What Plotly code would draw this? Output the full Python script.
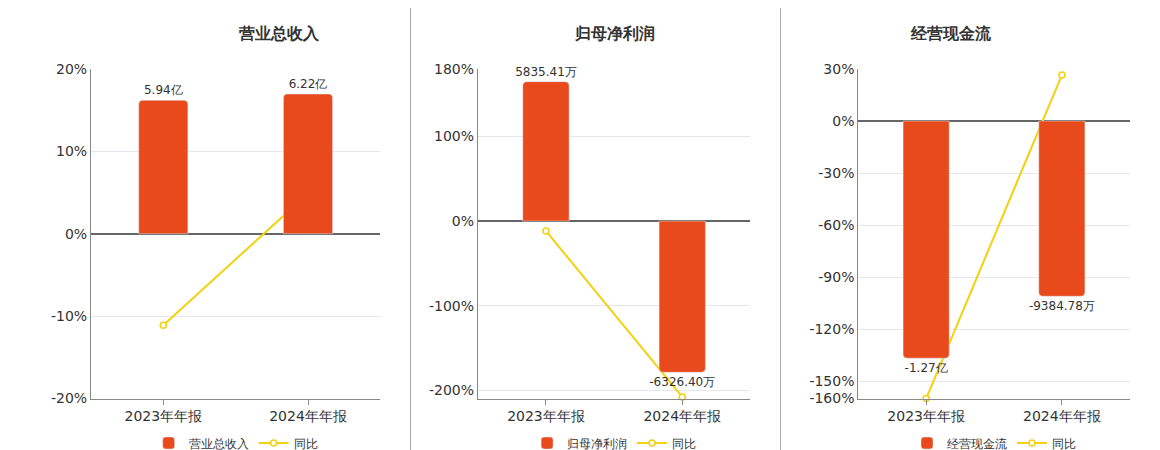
import plotly.graph_objects as go

categories = ["2023年年报", "2024年年报"]
titles = ["营业总收入", "归母净利润", "经营现金流"]
bar_names = ["营业总收入", "归母净利润", "经营现金流"]
bar_values = [[5.94, 6.22], [5835.41, -6326.40], [-12700, -9384.78]]
bar_labels = [["5.94亿", "6.22亿"], ["5835.41万", "-6326.40万"], ["-1.27亿", "-9384.78万"]]
yoy_values = [[-11.1, 4.9], [-11.7, -208.0], [-160.0, 26.5]]
pct_ranges = [[-20, 20], [-210, 180], [-160, 30]]
pct_ticks = [[-20, -10, 0, 10, 20], [-200, -100, 0, 100, 180], [-160, -150, -120, -90, -60, -30, 0, 30]]
scale = [0.3667, 35.37, 92.9]   # bar units per 1% on the percent axis

BAR = "#E84A1B"
LINE = "#F2D10F"
domains = [[0.0715, 0.321], [0.405, 0.640], [0.733, 0.967]]

fig = go.Figure()
for i in range(3):
    n = i + 1
    xa = "x" if n == 1 else f"x{n}"
    ya_bar = f"y{2*n-1}" if n > 1 else "y"
    ya_pct = f"y{2*n}"
    leg = "legend" if n == 1 else f"legend{n}"
    fig.add_trace(go.Bar(x=categories, y=bar_values[i], name=bar_names[i], marker_color=BAR,
                         width=0.34, marker_cornerradius=4, text=bar_labels[i], textposition="outside",
                         constraintext="none", textfont=dict(size=12, color="#333"), cliponaxis=False,
                         xaxis=xa, yaxis=ya_bar, legend=leg))
    fig.add_trace(go.Scatter(x=categories, y=yoy_values[i], name="同比", mode="lines+markers",
                             line=dict(color=LINE, width=2),
                             marker=dict(size=6, color="white", line=dict(color=LINE, width=1.5)),
                             cliponaxis=False, xaxis=xa, yaxis=ya_pct, legend=leg))
    lo, hi = pct_ranges[i]
    fig.layout[f"xaxis{n if n > 1 else ''}"] = dict(domain=domains[i], anchor=ya_pct, showline=True,
        linecolor="#888", ticks="outside", tickcolor="#888", tickfont=dict(size=14, color="#333"))
    fig.layout[f"yaxis{2*n-1 if n > 1 else ''}"] = dict(range=[lo * scale[i], hi * scale[i]],
        overlaying=ya_pct, visible=False, anchor=xa)
    fig.layout[f"yaxis{2*n}"] = dict(domain=[0.104, 0.876], range=[lo, hi], tickvals=pct_ticks[i],
        ticktext=[f"{t}%" for t in pct_ticks[i]], anchor=xa, showline=True, linecolor="#888",
        gridcolor="#e6e6ee", zeroline=True, zerolinecolor="#666", zerolinewidth=1.5,
        tickfont=dict(size=14, color="#333"))
    fig.layout[leg] = dict(orientation="h", x=sum(domains[i]) / 2, xanchor="center", y=0.0,
        yanchor="middle", font=dict(size=12, color="#333"), bgcolor="rgba(0,0,0,0)",
        itemwidth=30, tracegroupgap=0)
    fig.add_annotation(text=f"<b>{titles[i]}</b>", x=sum(domains[i]) / 2, y=0.986, xref="paper",
                       yref="paper", showarrow=False, font=dict(size=16, color="#333"))

for xpos in [0.347, 0.666]:
    fig.add_shape(type="line", x0=xpos, x1=xpos, y0=-0.02, y1=1.02, xref="paper", yref="paper",
                  line=dict(color="#aaa", width=1))

fig.update_layout(width=1160, height=450, margin=dict(l=0, r=0, t=0, b=0), plot_bgcolor="white",
                  paper_bgcolor="white", font=dict(family="DejaVu Sans"), barmode="group")
fig.write_html("out.html")
